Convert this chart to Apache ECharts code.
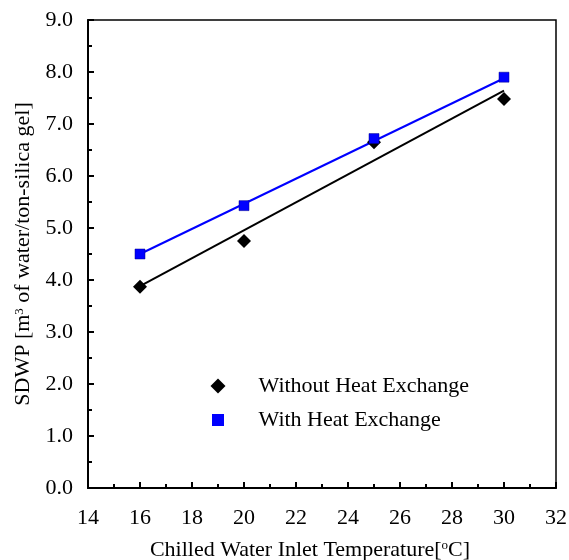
<!DOCTYPE html>
<html><head><meta charset="utf-8">
<script src="https://cdn.jsdelivr.net/npm/echarts@6/dist/echarts.min.js"></script>
<style>html,body{margin:0;padding:0;background:#fff}#c{width:569px;height:560px}</style>
</head><body><div id="c"></div>
<script>
const temps = [16, 20, 25, 30];
const withoutHX = [3.87, 4.75, 6.65, 7.48];
const withHX = [4.50, 5.43, 6.72, 7.90];
const trendX = [16, 30];
const trendWithout = [3.88, 7.64];
const trendWith = [4.50, 7.88];
const xTicks = [14, 16, 18, 20, 22, 24, 26, 28, 30, 32];
const yTicks = [0, 1, 2, 3, 4, 5, 6, 7, 8, 9];

const pairs = (xs, ys) => xs.map((x, i) => [x, ys[i]]);
const font = 'Liberation Serif';
const FS = 22;
const chart = echarts.init(document.getElementById('c'));
chart.setOption({
  animation: false,
  grid: {left: 88, right: 13, top: 20, bottom: 72, outerBoundsMode: 'none', containLabel: false,
         show: true, borderColor: '#000', borderWidth: 1.5},
  xAxis: {
    type: 'value', min: xTicks[0], max: xTicks[xTicks.length - 1], interval: 2,
    axisLine: {lineStyle: {color: '#000', width: 2}},
    axisTick: {inside: true, length: 6, lineStyle: {color: '#000', width: 2}},
    minorTick: {show: true, splitNumber: 2, length: 4, lineStyle: {color: '#000', width: 2}},
    splitLine: {show: false},
    axisLabel: {color: '#000', fontFamily: font, fontSize: FS, margin: 19},
    name: 'Chilled Water Inlet Temperature[{sup|o}C]',
    nameLocation: 'middle', nameGap: 51,
    nameTextStyle: {color: '#000', fontFamily: font, fontSize: FS, padding: [0, 24, 0, 0],
      rich: {sup: {fontFamily: font, fontSize: 13, verticalAlign: 'top', padding: [0, 0, 9, 0], color: '#000'}}}
  },
  yAxis: {
    type: 'value', min: yTicks[0], max: yTicks[yTicks.length - 1], interval: 1,
    axisLine: {lineStyle: {color: '#000', width: 2}},
    axisTick: {inside: true, length: 6, lineStyle: {color: '#000', width: 2}},
    minorTick: {show: true, splitNumber: 2, length: 4, lineStyle: {color: '#000', width: 2}},
    splitLine: {show: false},
    axisLabel: {color: '#000', fontFamily: font, fontSize: FS, margin: 15, formatter: v => v.toFixed(1)},
    name: 'SDWP [m{sup|3} of water/ton-silica gel]',
    nameLocation: 'middle', nameGap: 53,
    nameTextStyle: {color: '#000', fontFamily: font, fontSize: FS,
      rich: {sup: {fontFamily: font, fontSize: 13, verticalAlign: 'top', padding: [0, 0, 9, 0], color: '#000'}}}
  },
  legend: {
    data: [
      {name: 'Without Heat Exchange'},
      {name: 'With Heat Exchange', itemStyle: {borderColor: '#fff', borderWidth: 3}}
    ],
    orient: 'vertical', left: 204, top: 370, itemGap: 12,
    itemWidth: 15, itemHeight: 15,
    textStyle: {color: '#000', fontFamily: font, fontSize: FS, padding: [0, 0, 0, 28]}
  },
  series: [
    {name: 'trend1', type: 'line', data: pairs(trendX, trendWithout), symbol: 'none',
     lineStyle: {color: '#000', width: 2}, silent: true, z: 1},
    {name: 'trend2', type: 'line', data: pairs(trendX, trendWith), symbol: 'none',
     lineStyle: {color: '#0000ff', width: 2}, silent: true, z: 1},
    {name: 'Without Heat Exchange', type: 'scatter', data: pairs(temps, withoutHX),
     symbol: 'diamond', symbolSize: 14, itemStyle: {color: '#000', opacity: 1}, z: 3},
    {name: 'With Heat Exchange', type: 'scatter', data: pairs(temps, withHX),
     symbol: 'rect', symbolSize: 10, itemStyle: {color: '#0000ff', borderColor: '#00008b', borderWidth: 0.5, opacity: 1}, z: 3}
  ]
});
</script></body></html>
